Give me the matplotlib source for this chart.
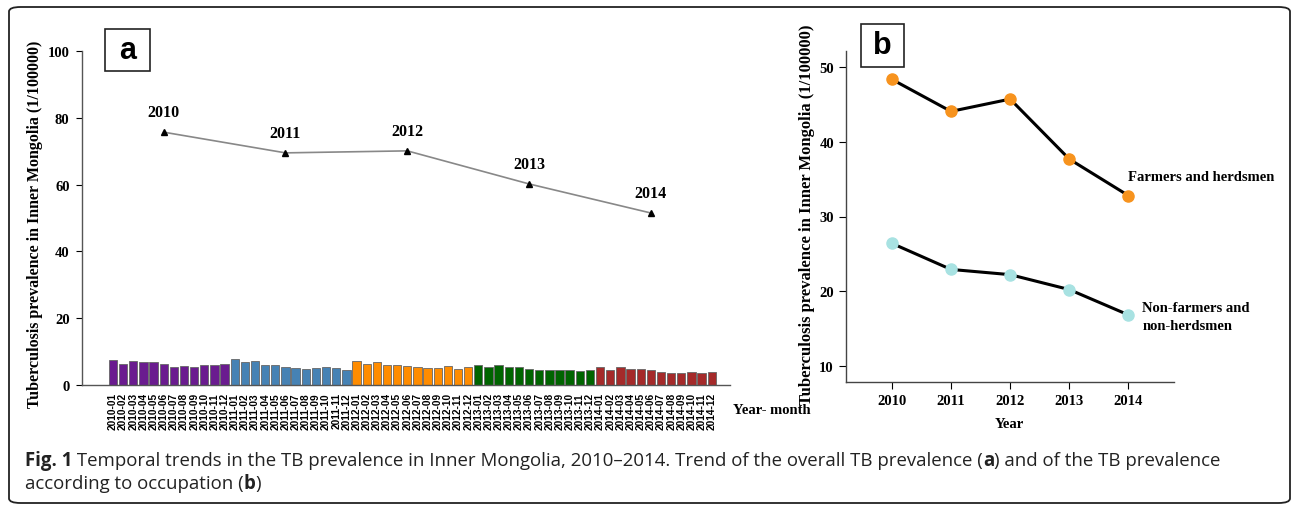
import matplotlib
matplotlib.use("Agg")
import matplotlib.pyplot as plt
from matplotlib.patches import FancyBboxPatch, Rectangle

# ---------------- data ----------------
years = [2010, 2011, 2012, 2013, 2014]
month_labels = [f"{y}-{m:02d}" for y in years for m in range(1, 13)]
monthly_2010 = [7.5, 6.4, 7.3, 6.9, 6.9, 6.3, 5.5, 5.8, 5.5, 6.1, 6.0, 6.3]
monthly_2011 = [7.8, 6.9, 7.1, 6.1, 6.1, 5.3, 5.0, 4.8, 5.0, 5.5, 5.1, 4.5]
monthly_2012 = [7.1, 6.4, 6.8, 6.0, 6.1, 5.8, 5.5, 5.1, 5.1, 5.8, 4.8, 5.3]
monthly_2013 = [6.1, 5.3, 6.1, 5.5, 5.3, 4.8, 4.5, 4.6, 4.6, 4.6, 4.3, 4.5]
monthly_2014 = [5.3, 4.5, 5.3, 4.8, 4.8, 4.5, 4.0, 3.6, 3.6, 3.8, 3.6, 4.0]
monthly_by_year = [monthly_2010, monthly_2011, monthly_2012, monthly_2013, monthly_2014]
year_colors = ["#6a1b8f", "#4682b4", "#ff8c00", "#006400", "#a52a2a"]
annual_overall = [75.7, 69.5, 70.1, 60.2, 51.5]

farmers = [48.4, 44.1, 45.75, 37.7, 32.8]
non_farmers = [26.4, 22.9, 22.2, 20.2, 16.8]

caption_line1 = [("Fig. 1", True),
                 (" Temporal trends in the TB prevalence in Inner Mongolia, 2010\u20132014. "
                  "Trend of the overall TB prevalence (", False),
                 ("a", True),
                 (") and of the TB prevalence", False)]
caption_line2 = [("according to occupation (", False), ("b", True), (")", False)]

W, H = 1292, 506
fig = plt.figure(figsize=(W / 100, H / 100), dpi=100)

def ax_px(l, t, r, b):
    return fig.add_axes([l / W, 1 - b / H, (r - l) / W, (b - t) / H])

serif = "Liberation Serif"
sans = "Liberation Sans"

# border
fig.patches.append(FancyBboxPatch((9 / W, 2 / H), 1281 / W, 496 / H,
                                  boxstyle="round,pad=0,rounding_size=0.009",
                                  transform=fig.transFigure, fill=False,
                                  edgecolor="#222222", linewidth=1.3))

# ---------------- panel a ----------------
axa = ax_px(82, 52, 730, 386)
xs, vals, cols = [], [], []
i = 0
for yr, mv, c in zip(years, monthly_by_year, year_colors):
    for v in mv:
        xs.append(i)
        vals.append(v)
        cols.append(c)
        i += 1
axa.bar(xs, vals, width=0.82, color=cols, edgecolor="#666666", linewidth=0.6)
pos_pts = [month_labels.index(f"{y}-06") for y in years]
axa.plot(pos_pts, annual_overall, color="#888888", linewidth=1.2, zorder=3)
axa.plot(pos_pts, annual_overall, linestyle="none", marker="^", color="black",
         markersize=5, zorder=4)
for x, v, y in zip(pos_pts, annual_overall, years):
    axa.annotate(str(y), (x, v), xytext=(0, 14.5), textcoords="offset points",
                 ha="center", va="center", fontsize=11.5, fontweight="bold",
                 family=serif)
axa.set_xlim(-3.05, 60.8)
axa.set_ylim(0, 100)
axa.set_yticks([0, 20, 40, 60, 80, 100])
axa.set_xticks(xs)
axa.set_xticklabels(month_labels, rotation=90, fontsize=7.3, fontweight="bold",
                    family=sans)
axa.tick_params(axis="x", length=0, pad=5)
axa.tick_params(axis="y", direction="out", length=4, labelsize=10.5, pad=5)
for lab in axa.get_yticklabels():
    lab.set_fontweight("bold")
    lab.set_family(serif)
for s in ["top", "right"]:
    axa.spines[s].set_visible(False)
for s in ["left", "bottom"]:
    axa.spines[s].set_color("#555555")
    axa.spines[s].set_linewidth(1.0)
axa.set_ylabel("Tuberculosis prevalence in Inner Mongolia (1/100000)",
               fontsize=11.5, fontweight="bold", family=serif)
axa.yaxis.set_label_coords(-0.060, 0.485)
fig.text(733 / W, 1 - 411 / H, "Year- month", fontsize=10.5, fontweight="bold",
         family=serif, ha="left", va="center")

# panel label a
fig.patches.append(Rectangle((105 / W, 1 - 72 / H), 45 / W, 42 / H,
                             transform=fig.transFigure, fill=True,
                             facecolor="white", edgecolor="#222222", linewidth=1.2))
fig.text(127.5 / W, 1 - 51 / H, "a", fontsize=22, fontweight="bold",
         family=sans, ha="center", va="center")

# ---------------- panel b ----------------
axb = ax_px(845.7, 52, 1174, 383)
axb.plot(years, farmers, color="black", linewidth=2.2, zorder=2)
axb.plot(years, farmers, linestyle="none", marker="o", color="#f7931e",
         markersize=8, zorder=3)
axb.plot(years, non_farmers, color="black", linewidth=2.2, zorder=2)
axb.plot(years, non_farmers, linestyle="none", marker="o", color="#a8e2e2",
         markersize=8, zorder=3)
axb.set_xlim(2009.22, 2014.77)
axb.set_ylim(7.8, 52.2)
axb.set_xticks(years)
axb.set_yticks([10, 20, 30, 40, 50])
axb.tick_params(direction="out", length=5, labelsize=10.5)
for lab in axb.get_xticklabels() + axb.get_yticklabels():
    lab.set_fontweight("bold")
    lab.set_family(serif)
for s in ["top", "right"]:
    axb.spines[s].set_visible(False)
for s in ["left", "bottom"]:
    axb.spines[s].set_color("#444444")
    axb.spines[s].set_linewidth(1.0)
axb.set_xlabel("Year", fontsize=10.5, fontweight="bold", family=serif, labelpad=7)
axb.set_ylabel("Tuberculosis prevalence in Inner Mongolia (1/100000)",
               fontsize=12, fontweight="bold", family=serif)
axb.yaxis.set_label_coords(-0.094, 0.507)
axb.annotate("Farmers and herdsmen", (years[-1], farmers[-1]), xytext=(0, 9),
             textcoords="offset points", ha="left", va="bottom", fontsize=10.5,
             fontweight="bold", family=serif)
axb.annotate("Non-farmers and\nnon-herdsmen", (years[-1], non_farmers[-1]),
             xytext=(10, -1.3), textcoords="offset points", ha="left",
             va="center", fontsize=10.5, fontweight="bold", family=serif,
             linespacing=1.45)

fig.patches.append(Rectangle((861 / W, 1 - 68 / H), 43 / W, 43 / H,
                             transform=fig.transFigure, fill=True,
                             facecolor="white", edgecolor="#222222", linewidth=1.2))
fig.text(882.5 / W, 1 - 46.5 / H, "b", fontsize=22, fontweight="bold",
         family=sans, ha="center", va="center")

# ---------------- caption ----------------
cap_font = "Open Sans"
renderer = fig.canvas.get_renderer()

def measure(pieces, size):
    total = 0
    for txt, bold in pieces:
        t = fig.text(0, 0, txt, fontsize=size, family=cap_font,
                     fontweight="bold" if bold else "normal")
        total += t.get_window_extent(renderer).width
        t.remove()
    return total

base = 10
target_w = 1221 - 25
cap_size = base * target_w / measure(caption_line1, base)

def draw_line(pieces, x_px, y_px):
    x = x_px
    for txt, bold in pieces:
        t = fig.text(x / W, 1 - y_px / H, txt, fontsize=cap_size, family=cap_font,
                     fontweight="bold" if bold else "normal", color="#222222",
                     ha="left", va="center")
        x += t.get_window_extent(renderer).width

draw_line(caption_line1, 25, 461)
draw_line(caption_line2, 25, 484)

fig.savefig("out.png", dpi=100)
